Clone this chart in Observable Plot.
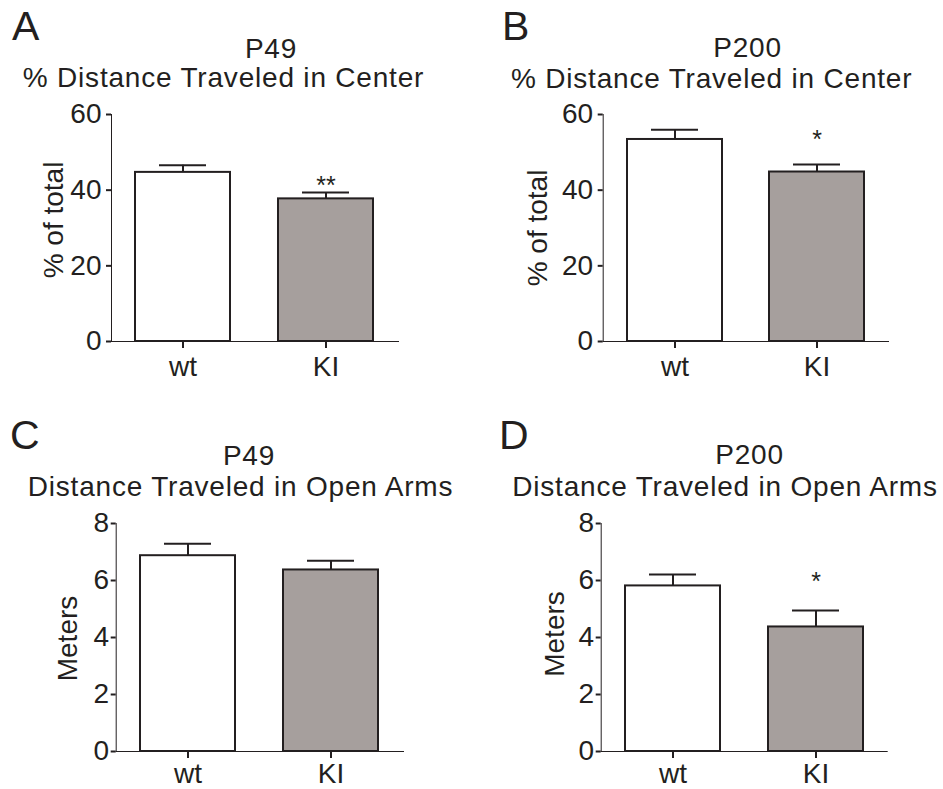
<!DOCTYPE html>
<html>
<head>
<meta charset="utf-8">
<script src="https://cdn.jsdelivr.net/npm/d3@7"></script>
<script src="https://cdn.jsdelivr.net/npm/@observablehq/plot@0.6"></script>
<style>
  body { margin: 0; background: #fff; }
  #root { position: relative; width: 943px; height: 789px; overflow: hidden;
          font-family: "Liberation Sans", Arial, sans-serif; color: #231f20; background: #fff; }
  .panel { position: absolute; }
  .t { position: absolute; white-space: nowrap; transform: translateX(-50%);
       font-size: 28px; line-height: 28px; letter-spacing: 0.8px; }
  .letter { position: absolute; font-size: 41px; line-height: 41px; }
  .panel svg [aria-label*="axis"] path, .panel svg [aria-label*="axis"] line,
  .panel svg [aria-label="frame"] path, .panel svg [aria-label="frame"] line,
  .panel svg [aria-label="frame"] rect { stroke-width: 2px; }
  .panel svg [aria-label="ylabel"] text { letter-spacing: 0.3px; }
</style>
</head>
<body>
<div id="root"></div>
<script>
// ---- data ----
const groups = ["wt", "KI"];

const meanA = [44.7, 37.7];   // P49 % distance in center
const semA  = [1.9, 1.7];
const sigA  = ["", "**"];

const meanB = [53.4, 44.8];   // P200 % distance in center
const semB  = [2.6, 2.0];
const sigB  = ["", "*"];

const meanC = [6.87, 6.37];   // P49 distance in open arms (m)
const semC  = [0.42, 0.32];
const sigC  = ["", ""];

const meanD = [5.81, 4.37];   // P200 distance in open arms (m)
const semD  = [0.40, 0.58];
const sigD  = ["", "*"];

const ticksPct = [0, 20, 40, 60];
const ticksM   = [0, 2, 4, 6, 8];

const panelLetters = ["A", "B", "C", "D"];
const subTitles  = ["P49", "P200", "P49", "P200"];
const mainTitles = ["% Distance Traveled in Center", "% Distance Traveled in Center",
                    "Distance Traveled in Open Arms", "Distance Traveled in Open Arms"];
const yLabels = ["% of total", "% of total", "Meters", "Meters"];

// ---- styling ----
const ink = "#231f20";
const fills = ["#ffffff", "#a69f9d"];

const root = document.getElementById("root");

function makePanel(cfg) {
  const rows = groups.map((g, i) => ({group: g, mean: cfg.mean[i], sem: cfg.sem[i], sig: cfg.sig[i]}));
  const svg = Plot.plot({
    width: cfg.width, height: cfg.height,
    marginLeft: cfg.mL, marginRight: cfg.mR, marginTop: cfg.mT, marginBottom: cfg.mB,
    style: {fontFamily: '"Liberation Sans", Arial, sans-serif', fontSize: cfg.fs + "px",
            color: ink, background: "transparent", overflow: "visible"},
    x: {domain: groups, paddingInner: 0.333, paddingOuter: 0.165, tickSize: 7, tickPadding: cfg.xtp,
        label: null, line: true},
    y: {domain: [0, cfg.ticks[cfg.ticks.length - 1]], ticks: cfg.ticks, tickSize: 5,
        tickPadding: cfg.tp, label: null, line: true},
    color: {domain: groups, range: fills},
    marks: [
      Plot.barY(rows, {x: "group", y: "mean", fill: "group", stroke: ink, strokeWidth: 2}),
      Plot.ruleX(rows, {x: "group", y1: "mean", y2: d => d.mean + d.sem, stroke: ink, strokeWidth: 2}),
      Plot.tickY(rows, {x: "group", y: d => d.mean + d.sem, stroke: ink, strokeWidth: 2, inset: 24}),
      Plot.text(rows, {x: "group", y: d => d.mean + d.sem, text: "sig", dy: cfg.starDy,
                       fontSize: 25, lineAnchor: "middle", fill: ink}),
      Plot.text([cfg.label], {text: d => d, frameAnchor: "left", rotate: -90, dx: cfg.ldx, dy: cfg.ldy,
                              fontSize: 28, lineAnchor: "middle", textAnchor: "middle", fill: ink,
                              ariaLabel: "ylabel"})
    ]
  });
  const wrap = document.createElement("div");
  wrap.className = "panel";
  wrap.style.left = cfg.left + "px";
  wrap.style.top = cfg.top + "px";
  wrap.appendChild(svg);
  root.appendChild(wrap);
}

makePanel({mean: meanA, sem: semA, sig: sigA, ticks: ticksPct, label: yLabels[0],
  left: 0, top: 0, width: 471, height: 394, mL: 111, mR: 73, mT: 114, mB: 53,
  fs: 28, tp: 5, xtp: 8, starDy: -6, ldx: -57.7, ldy: -8});
makePanel({mean: meanB, sem: semB, sig: sigB, ticks: ticksPct, label: yLabels[1],
  left: 470, top: 0, width: 473, height: 394, mL: 132.7, mR: 55, mT: 114, mB: 53,
  fs: 28, tp: 5, xtp: 8, starDy: -24, ldx: -65.2, ldy: 0});
makePanel({mean: meanC, sem: semC, sig: sigC, ticks: ticksM, label: yLabels[2],
  left: 0, top: 400, width: 471, height: 389, mL: 115.7, mR: 68, mT: 123, mB: 38,
  fs: 28, tp: 2, xtp: 5, starDy: -20, ldx: -47.7, ldy: 1});
makePanel({mean: meanD, sem: semD, sig: sigD, ticks: ticksM, label: yLabels[3],
  left: 470, top: 400, width: 473, height: 389, mL: 130.7, mR: 56.3, mT: 123, mB: 38,
  fs: 28, tp: 2, xtp: 5, starDy: -28.5, ldx: -45.7, ldy: -3.5});

// ---- titles and panel letters ----
const subPos  = [[271, 58.3], [747.5, 58], [249, 465.7], [749.5, 465]];
const mainPos = [[223.5, 87.3], [711.7, 89], [240.5, 496.7], [725, 496.7]];
const letterPos = [[12, 41], [502, 41], [10, 450], [499, 450]];

function addText(cls, text, x, baseline, asc) {
  const d = document.createElement("div");
  d.className = cls;
  d.textContent = text;
  d.style.left = x + "px";
  d.style.top = (baseline - asc) + "px";
  root.appendChild(d);
}
subTitles.forEach((s, i) => addText("t", s, subPos[i][0], subPos[i][1], 23.7));
mainTitles.forEach((s, i) => addText("t", s, mainPos[i][0], mainPos[i][1], 23.7));
panelLetters.forEach((s, i) => addText("letter", s, letterPos[i][0], letterPos[i][1], 34.7));
</script>
</body>
</html>
